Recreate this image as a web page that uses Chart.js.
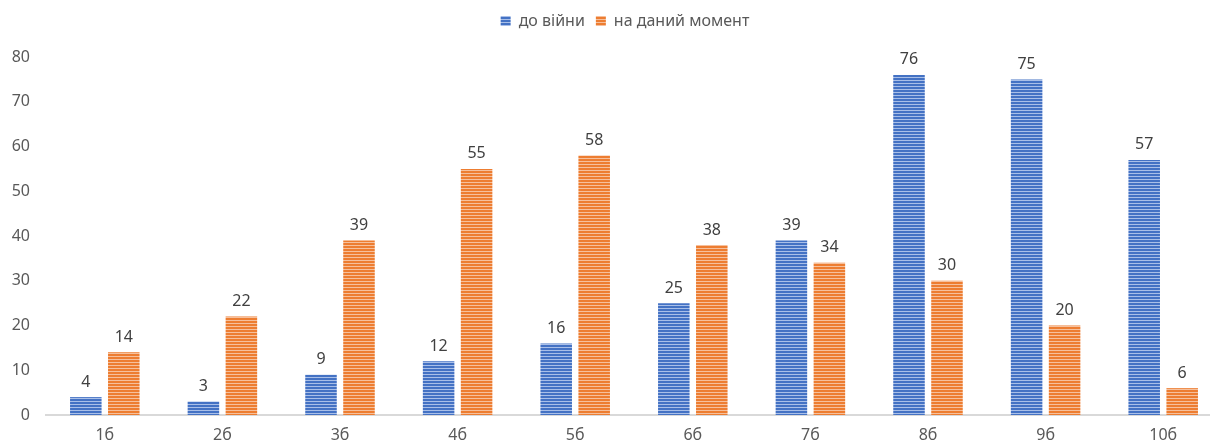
<!DOCTYPE html>
<html>
<head>
<meta charset="utf-8">
<script src="https://cdn.jsdelivr.net/npm/chart.js@4"></script>
<style>
  html, body { margin: 0; padding: 0; background: #fff; overflow: hidden; }
  #wrap { width: 1222px; height: 443px; position: relative; }
</style>
</head>
<body>
<div id="wrap"><canvas id="chart"></canvas></div>
<script>
// дані
const categories = ['1б', '2б', '3б', '4б', '5б', '6б', '7б', '8б', '9б', '10б'];
const beforeWar = [4, 3, 9, 12, 16, 25, 39, 76, 75, 57];
const nowValues = [14, 22, 39, 55, 58, 38, 34, 30, 20, 6];
const seriesNames = ['до війни', 'на даний момент'];
const yTicks = [0, 10, 20, 30, 40, 50, 60, 70, 80];

const FONT = '"Noto Sans", "Open Sans", sans-serif';

// смугаста заливка як в Excel
function stripes(dark, light) {
  const c = document.createElement('canvas');
  c.width = 4; c.height = 3;
  const g = c.getContext('2d');
  g.fillStyle = dark; g.fillRect(0, 0, 4, 2);
  g.fillStyle = light; g.fillRect(0, 2, 4, 1);
  return g.createPattern(c, 'repeat');
}

const ctx = document.getElementById('chart').getContext('2d');
const bluePat = stripes('#4472C4', '#A9BFE8');
const orangePat = stripes('#ED7D31', '#F6C09C');

// підписи значень над стовпцями
const valueLabels = {
  id: 'valueLabels',
  afterDatasetsDraw(chart) {
    const c = chart.ctx;
    c.save();
    c.font = '16px ' + FONT;
    c.fillStyle = '#404040';
    c.textAlign = 'center';
    c.textBaseline = 'bottom';
    chart.data.datasets.forEach((ds, i) => {
      chart.getDatasetMeta(i).data.forEach((bar, j) => {
        c.fillText(ds.data[j], bar.x, bar.y - 7);
      });
    });
    c.restore();
  },
};

// більше місця під легендою, легенда трохи правіше
const legendGap = {
  id: 'legendGap',
  beforeInit(chart) {
    const lg = chart.legend;
    const fit = lg.fit;
    lg.fit = function () {
      fit.call(this);
      this.height += 20;
    };
    const draw = lg.draw;
    lg.draw = function () {
      const c = this.ctx;
      c.save();
      c.translate(14, 2);
      draw.call(this);
      c.restore();
    };
  },
};

new Chart(ctx, {
  type: 'bar',
  data: {
    labels: categories,
    datasets: [
      { label: seriesNames[0], data: beforeWar, backgroundColor: bluePat, borderWidth: 0 },
      { label: seriesNames[1], data: nowValues, backgroundColor: orangePat, borderWidth: 0 },
    ],
  },
  options: {
    responsive: true,
    maintainAspectRatio: false,
    animation: false,
    categoryPercentage: 0.646,
    barPercentage: 0.83,
    layout: { padding: { left: 0, right: 0, top: 0, bottom: 0 } },
    plugins: {
      legend: {
        position: 'top',
        labels: {
          boxWidth: 10,
          boxHeight: 10,
          padding: 11,
          color: '#595959',
          font: { family: FONT, size: 16 },
        },
      },
      tooltip: { enabled: false },
    },
    scales: {
      x: {
        afterFit: s => { s.height = 28; },
        grid: { display: false, drawTicks: false },
        border: { color: '#D9D9D9', width: 2 },
        ticks: { color: '#595959', font: { family: FONT, size: 16 }, padding: 11 },
      },
      y: {
        min: 0,
        max: 80,
        afterBuildTicks: axis => { axis.ticks = yTicks.map(v => ({ value: v })); },
        afterFit: s => { s.width = 46; },
        grid: { display: false, drawTicks: false },
        border: { display: false },
        ticks: { color: '#595959', font: { family: FONT, size: 16 }, padding: 16 },
      },
    },
  },
  plugins: [valueLabels, legendGap],
});
</script>
</body>
</html>
